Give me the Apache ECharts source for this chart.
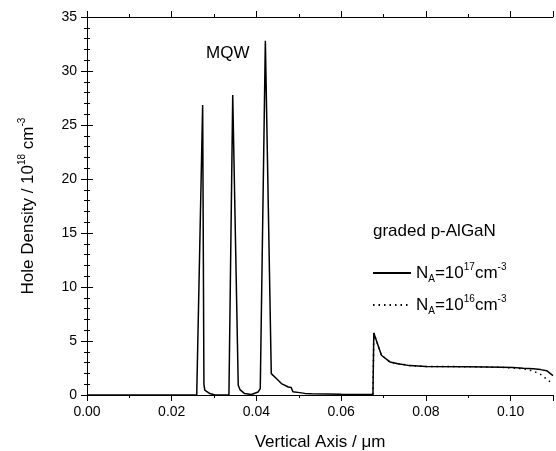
<!DOCTYPE html>
<html>
<head>
<meta charset="utf-8">
<script src="https://cdn.jsdelivr.net/npm/echarts@6/dist/echarts.min.js"></script>
<style>
  html, body { margin: 0; padding: 0; background: #fff; }
  #chart { width: 556px; height: 451px; }
</style>
</head>
<body>
<div id="chart"></div>
<script>
// position along the structure (um) and hole density (1e18 cm^-3)
const posSolid = [0, 0.0259, 0.0273, 0.0276, 0.0278, 0.0290, 0.0302, 0.0335, 0.0344, 0.0357, 0.0361, 0.0372, 0.0388,
  0.0404, 0.0409, 0.0421, 0.0435, 0.0447, 0.0459, 0.0475, 0.0482, 0.0486, 0.0502, 0.0514, 0.0530, 0.0600, 0.0675,
  0.0677, 0.0695, 0.0715, 0.0734, 0.0762, 0.0800, 0.0900, 0.0980, 0.1006, 0.1030, 0.1053, 0.1071, 0.1085, 0.1100];
const densSolid = [0, 0, 26.85, 0.99, 0.45, 0.13, 0, 0, 27.77, 0.9, 0.5, 0.13, 0.04,
  0.28, 0.6, 32.8, 1.98, 1.52, 1.06, 0.74, 0.69, 0.3, 0.22, 0.15, 0.12, 0.08, 0.05,
  5.75, 3.68, 3.06, 2.9, 2.72, 2.65, 2.62, 2.58, 2.54, 2.47, 2.42, 2.35, 2.25, 1.8];

const posDotted = [0.0675, 0.0677, 0.0695, 0.0715, 0.0734, 0.0762, 0.0800, 0.0900, 0.0980, 0.1006, 0.1030, 0.1053,
  0.1071, 0.1088, 0.1100];
const densDotted = [0.05, 5.75, 3.68, 3.06, 2.9, 2.72, 2.65, 2.62, 2.56, 2.5, 2.42, 2.22, 1.9, 1.38, 1.05];

const xTicks = [0, 0.02, 0.04, 0.06, 0.08, 0.10];
const yTicks = [0, 5, 10, 15, 20, 25, 30, 35];

const FONT = 'Liberation Sans, Arial, sans-serif';
const rich = {
  b: { fontSize: 17, fontFamily: FONT, color: '#000', lineHeight: 22 },
  p: { fontSize: 10, fontFamily: FONT, color: '#000', lineHeight: 10, verticalAlign: 'top' },
  s: { fontSize: 10, fontFamily: FONT, color: '#000', lineHeight: 10, verticalAlign: 'bottom' }
};

const zip = (xs, ys) => xs.map((x, i) => [x, ys[i]]);

const chart = echarts.init(document.getElementById('chart'));

const majorX = (pos, labels) => ({
  type: 'value', position: pos, min: 0, max: 0.11, interval: 0.02,
  axisLine: { show: true, lineStyle: { color: '#000', width: 1 } },
  axisTick: { show: true, length: 6, lineStyle: { color: '#000' } },
  axisLabel: {
    show: labels, margin: 10, fontSize: 14, fontFamily: FONT, color: '#000',
    formatter: v => (xTicks.some(t => Math.abs(t - v) < 1e-9) ? v.toFixed(2) : '')
  },
  splitLine: { show: false }
});
const minorX = pos => ({
  type: 'value', position: pos, min: 0, max: 0.11, interval: 0.01,
  axisLine: { show: false },
  axisTick: { show: true, length: 3, lineStyle: { color: '#000' } },
  axisLabel: { show: false },
  splitLine: { show: false }
});
const yAx = (pos, labels) => ({
  type: 'value', position: pos, min: 0, max: 35, interval: 5,
  axisLine: { show: true, lineStyle: { color: '#000', width: 1 } },
  axisTick: { show: true, length: 6, lineStyle: { color: '#000' } },
  minorTick: { show: true, splitNumber: 5, length: 3, lineStyle: { color: '#000' } },
  axisLabel: {
    show: labels, margin: 10, fontSize: 14, fontFamily: FONT, color: '#000',
    formatter: v => (yTicks.includes(v) ? String(v) : '')
  },
  splitLine: { show: false }
});

chart.setOption({
  animation: false,
  backgroundColor: '#fff',
  grid: { left: 87, right: 3, top: 17, bottom: 56, containLabel: false, outerBoundsMode: 'none' },
  title: [
    { text: 'MQW', left: 201, top: 40, textStyle: { fontSize: 17, fontWeight: 'normal', fontFamily: FONT, color: '#000' } },
    { text: 'graded p-AlGaN', left: 368, top: 218, textStyle: { fontSize: 17, fontWeight: 'normal', fontFamily: FONT, color: '#000' } }
  ],
  legend: {
    orient: 'vertical', left: 367, top: 257, itemWidth: 38, itemHeight: 10, itemGap: 10,
    data: ['NA17', 'NA16'],
    itemStyle: { opacity: 0 },
    formatter: name => name === 'NA17'
      ? '{b|N}{s|A}{b|=10}{p|17}{b|cm}{p|-3}'
      : '{b|N}{s|A}{b|=10}{p|16}{b|cm}{p|-3}',
    textStyle: { rich: rich }
  },
  xAxis: [
    Object.assign(majorX('bottom', true), {
      name: '{b|Vertical Axis / μm}', nameLocation: 'middle', nameGap: 36,
      nameTextStyle: { rich: rich }
    }),
    minorX('bottom'),
    majorX('top', false),
    minorX('top')
  ],
  yAxis: [
    Object.assign(yAx('left', true), {
      name: '{b|Hole Density / 10}{p|18}{b| cm}{p|-3}', nameLocation: 'middle', nameGap: 48,
      nameTextStyle: { rich: rich }
    }),
    yAx('right', false)
  ],
  series: [
    {
      name: 'NA17', type: 'line', xAxisIndex: 0, yAxisIndex: 0, data: zip(posSolid, densSolid),
      showSymbol: false, symbol: 'none', z: 3,
      lineStyle: { color: '#000', width: 1.5, type: 'solid' }, itemStyle: { color: '#000' }
    },
    {
      name: 'NA16', type: 'line', xAxisIndex: 0, yAxisIndex: 0, data: zip(posDotted, densDotted),
      showSymbol: false, symbol: 'none', z: 2,
      lineStyle: { color: '#000', width: 1.5, type: [1.5, 4] }, itemStyle: { color: '#000' }
    }
  ]
});
</script>
</body>
</html>
